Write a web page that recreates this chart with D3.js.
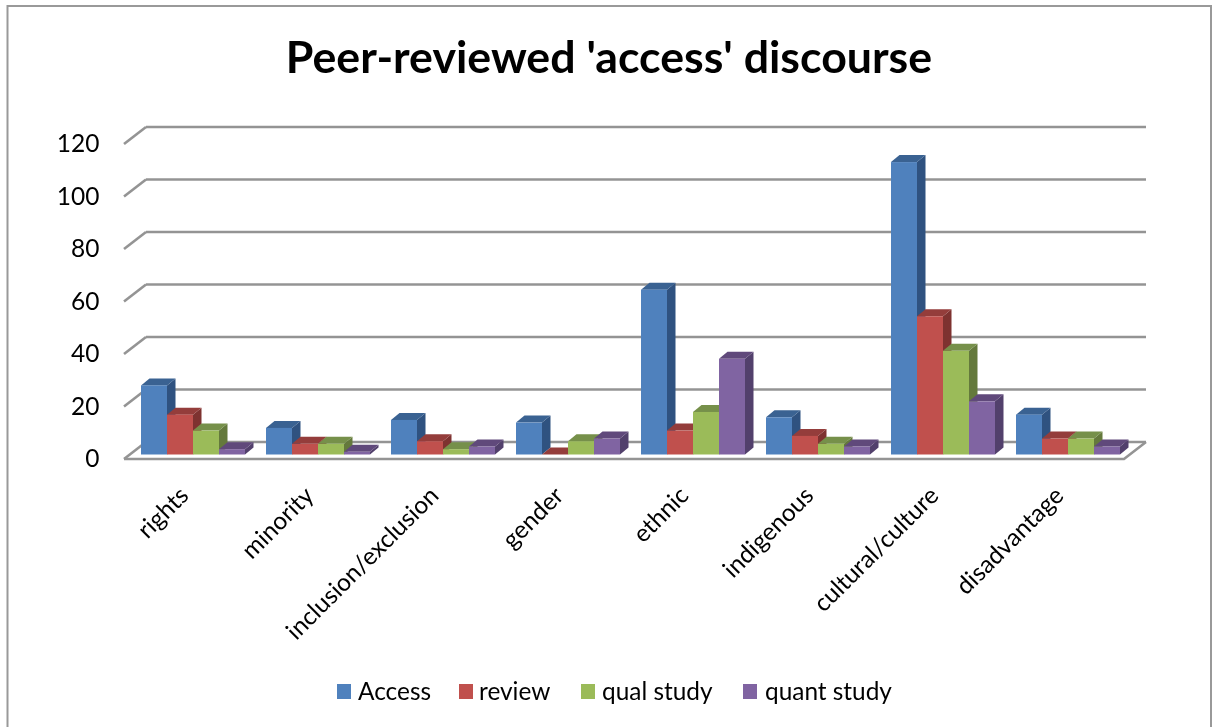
<!DOCTYPE html>
<html><head><meta charset="utf-8"><script src="https://cdn.jsdelivr.net/npm/d3@7"></script>
<style>html,body{margin:0;padding:0;background:#fff;overflow:hidden}svg{display:block;filter:blur(0.45px)}text{font-family:Lato,"Open Sans",sans-serif;fill:#000}</style></head><body>
<script>
const categories=["rights","minority","inclusion/exclusion","gender","ethnic","indigenous","cultural/culture","disadvantage"];
const seriesNames=["Access","review","qual study","quant study"];
const access=[26,10,13,12,62,14,110,15];
const review=[15,4,5,0,9,7,52,6];
const qual=[9,4,2,5,16,4,39,6];
const quant=[2,1,3,6,36,3,20,3];
const tickValues=[0,20,40,60,80,100,120];
const seriesValues=[access,review,qual,quant];
const front=["#4f81bd","#c0504d","#9bbb59","#8064a2"];
const tops=["#3a6292","#943d3b","#76904a","#60497b"];
const sides=["#2f5280","#7e3230","#64793c","#52406c"];
const W=1217,H=727;
const svg=d3.select("body").append("svg").attr("width",W).attr("height",H);
svg.append("rect").attr("x",7.5).attr("y",6).attr("width",1203.5).attr("height",740).attr("fill","#fff").attr("stroke","#999").attr("stroke-width",2);
svg.append("text").attr("x",609).attr("y",73).attr("text-anchor","middle").style("font-size","44.7px").style("font-weight",700).text("Peer-reviewed 'access' discourse");
const yBack=d3.scaleLinear().domain([0,120]).range([442,127]);
const yFront=d3.scaleLinear().domain([0,120]).range([459,144]);
const yBar=d3.scaleLinear().domain([0,120]).range([454.5,135.5]);
const x0=d3.scaleBand().domain(categories).range([128.5,1128.5]).paddingInner(0).paddingOuter(0);
const x1=d3.scaleBand().domain(seriesNames).range([12.5,116.5]);
const gridColor="#949494";
const grid=svg.append("g").attr("fill","none").attr("stroke",gridColor).attr("stroke-width",2.6);
tickValues.forEach(t=>{
  grid.append("path").attr("d",d3.line()([[146,yBack(t)],[1146,yBack(t)]]));
  grid.append("path").attr("d",d3.line()([[124,yFront(t)],[146,yBack(t)]]));
});
grid.append("path").attr("d",d3.line()([[124,459],[1124,459],[1146,442]]));
svg.append("g").selectAll("text").data(tickValues).join("text").attr("x",99.5).attr("text-anchor","end")
  .attr("y",d=>yFront(d)+8).style("font-size","24.5px").text(d=>d);
const dx=8.5,dy=7;
const bars=svg.append("g");
categories.forEach((c,i)=>{
  seriesValues.forEach((vals,s)=>{
    const name=seriesNames[s],xl=x0(c)+x1(name),w=x1.bandwidth(),xr=xl+w,yb=yBar(0),yt=yBar(vals[i]);
    const g=bars.append("g");
    g.append("path").attr("fill",sides[s]).attr("d",d3.line()([[xr,yt],[xr+dx,yt-dy],[xr+dx,yb-dy],[xr,yb]]));
    g.append("path").attr("fill",tops[s]).attr("d",d3.line()([[xl,yt],[xl+dx,yt-dy],[xr+dx,yt-dy],[xr,yt]]));
    g.append("rect").attr("fill",front[s]).attr("x",xl).attr("y",yt).attr("width",w).attr("height",yb-yt);
  });
});
svg.append("g").selectAll("text").data(categories).join("text").attr("text-anchor","end")
  .attr("transform",d=>`translate(${x0(d)+x0.bandwidth()/2-13},485) rotate(-45)`).attr("dy","0.7em")
  .style("font-size","24.4px").text(d=>d);
const legendX=[337,459,581,743],legendTextX=[358,479,602,765];
const leg=svg.append("g");
seriesNames.forEach((n,i)=>{
  leg.append("rect").attr("x",legendX[i]).attr("y",684).attr("width",14).attr("height",15).attr("fill",front[i]);
  leg.append("text").attr("x",legendTextX[i]).attr("y",700).style("font-size","24.4px").text(n);
});
</script></body></html>
